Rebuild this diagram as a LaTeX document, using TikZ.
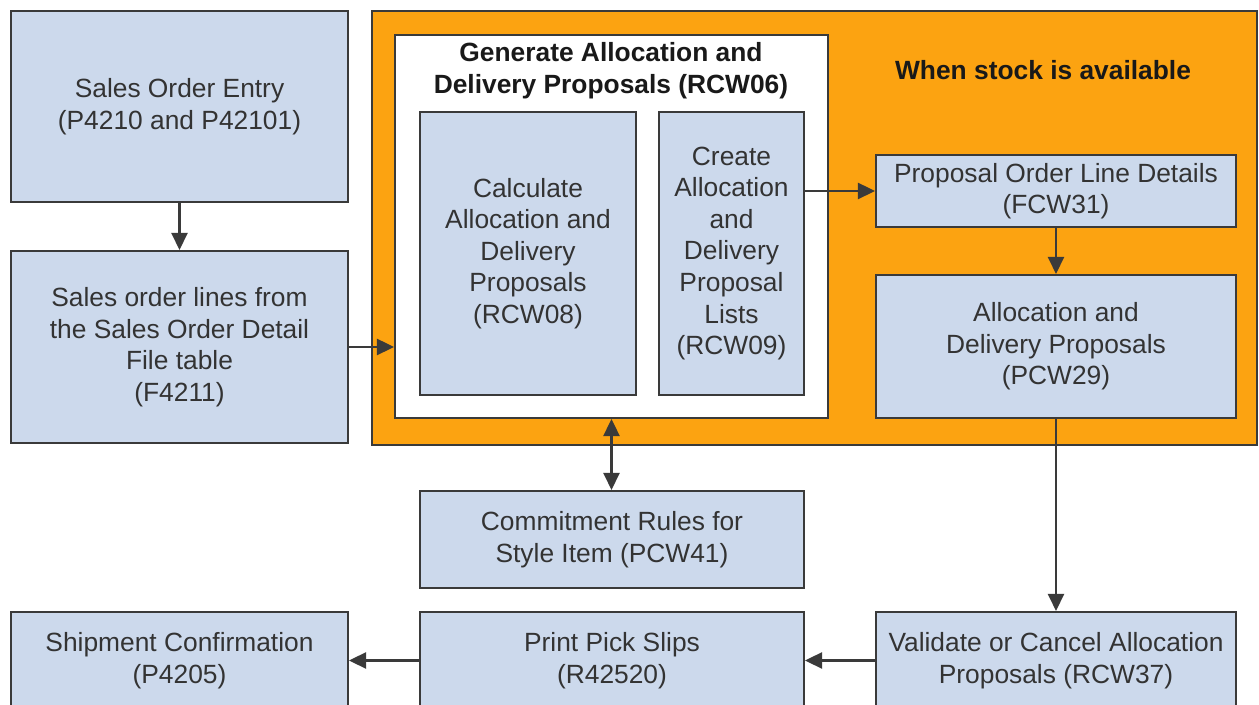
\documentclass[tikz,border=0pt]{standalone}
\usepackage{fontspec}
\setmainfont{Liberation Sans}
\usepackage{tikz}
\usetikzlibrary{arrows.meta,positioning,backgrounds,calc}
\definecolor{caInk}{HTML}{3A3A3A}
\definecolor{caText}{HTML}{333333}
\definecolor{caBlue}{HTML}{CCD9EC}
\definecolor{caOrange}{HTML}{FCA311}
\tikzset{
  % Blue process box
  pbox/.style={rectangle,inner sep=0pt,
    align=center,draw=caInk,fill=caBlue,line width=1.2pt,
    font=\fontsize{15}{18}\selectfont,text=caText},
  % Orange frame (stock available)
  obox/.style={rectangle,inner sep=0pt,
    draw=caInk,fill=caOrange,line width=1.2pt},
  % White frame (RCW06)
  wbox/.style={rectangle,inner sep=0pt,
    draw=caInk,fill=white,line width=1.2pt},
  % Bold headings
  hdr/.style={align=center,inner sep=0pt,
    font=\fontsize{15}{18}\selectfont\bfseries,text=black!90},
  % Arrows
  arr/.style={-{Triangle[length=0.34cm,width=0.32cm]},line width=1.4pt,color=caInk},
  arrb/.style={{Triangle[length=0.34cm,width=0.32cm]}-{Triangle[length=0.34cm,width=0.32cm]},
    line width=1.4pt,color=caInk},
}

\begin{document}
\begin{tikzpicture}[x=0.02cm,y=-0.02cm]

  \useasboundingbox[fill=white] (0,0) rectangle (1259,705);

  % left column
  \node[pbox,minimum width=6.74cm,minimum height=3.82cm] (entry) at (179.5,106.5)
    {Sales Order Entry\\(P4210 and P42101)};
  \node[pbox,minimum width=6.74cm,minimum height=3.84cm] (lines) at (179.5,347)
    {Sales order lines from\\the Sales Order Detail\\File table\\(F4211)};

  % group frames
  \node[obox,minimum width=17.70cm,minimum height=8.68cm] (stock) at (814.5,228) {};
  \node[hdr] (stocklbl) at (1043,70) {When stock is available};
  \node[wbox,minimum width=8.66cm,minimum height=7.66cm] (gen) at (611.5,226.5) {};
  \node[hdr] (genlbl) at (611,71) {Generate Allocation and\\Delivery Proposals (RCW06)};

  \node[pbox,minimum width=4.32cm,minimum height=5.66cm] (calc) at (528,253.5)
    {Calculate\\Allocation and\\Delivery\\Proposals\\(RCW08)};
  \node[pbox,minimum width=2.90cm,minimum height=5.66cm] (create) at (731.5,253.5)
    {Create\\Allocation\\and\\Delivery\\Proposal\\Lists\\(RCW09)};

  \node[pbox,minimum width=7.20cm,minimum height=1.44cm] (fcw) at (1056,191)
    {Proposal Order Line Details\\(FCW31)};
  \node[pbox,minimum width=7.20cm,minimum height=2.86cm] (pcw) at (1056,346.5)
    {Allocation and\\Delivery Proposals\\(PCW29)};

  % lower rows
  \node[pbox,minimum width=7.68cm,minimum height=1.94cm] (rules) at (612,539.5)
    {Commitment Rules for\\Style Item (PCW41)};
  \node[pbox,minimum width=6.74cm,minimum height=1.94cm] (ship) at (179.5,660.5)
    {Shipment Confirmation\\(P4205)};
  \node[pbox,minimum width=7.68cm,minimum height=1.94cm] (pick) at (612,660.5)
    {Print Pick Slips\\(R42520)};
  \node[pbox,minimum width=7.20cm,minimum height=1.94cm] (valid) at (1056,660.5)
    {Validate or Cancel Allocation\\Proposals (RCW37)};

  \draw[arr] (entry) -- (lines);
  \draw[arr] (lines.east) -- (lines.east -| gen.west);
  \draw[arr] (create.east |- fcw.west) -- (fcw.west);
  \draw[arr] (fcw) -- (pcw);
  \draw[arrb] (gen.south) -- (gen.south |- rules.north);
  \draw[arr] (pcw.south) -- (valid.north);
  \draw[arr] (valid) -- (pick);
  \draw[arr] (pick) -- (ship);

\end{tikzpicture}
\end{document}
